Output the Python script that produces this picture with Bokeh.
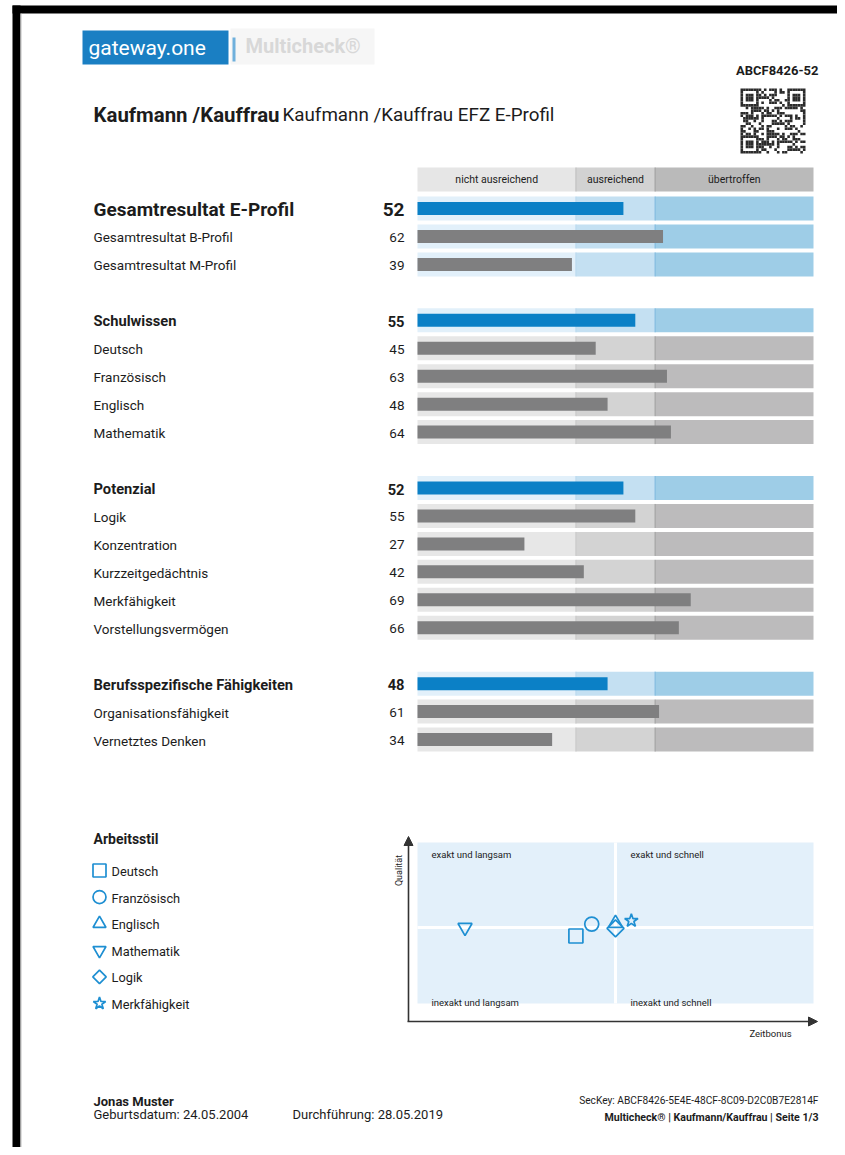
import hashlib
import math
from bokeh.plotting import figure
from bokeh.models import Range1d, ColumnDataSource, Arrow, NormalHead
from bokeh.core.properties import value
from bokeh.embed import file_html
from bokeh.resources import INLINE

# ---------------- data ----------------
labels = ["Gesamtresultat E-Profil", "Gesamtresultat B-Profil", "Gesamtresultat M-Profil",
          "Schulwissen", "Deutsch", "Französisch", "Englisch", "Mathematik",
          "Potenzial", "Logik", "Konzentration", "Kurzzeitgedächtnis", "Merkfähigkeit",
          "Vorstellungsvermögen",
          "Berufsspezifische Fähigkeiten", "Organisationsfähigkeit", "Vernetztes Denken"]
scores = [52, 62, 39, 55, 45, 63, 48, 64, 52, 55, 27, 42, 69, 66, 48, 61, 34]
kinds = ["top", "bluesub", "bluesub", "head", "sub", "sub", "sub", "sub",
         "head", "sub", "sub", "sub", "sub", "sub", "head", "sub", "sub"]
groups = [0, 0, 0, 1, 1, 1, 1, 1, 2, 2, 2, 2, 2, 2, 3, 3, 3]
zone_edges = [0, 40, 60, 100]
zone_names = ["nicht ausreichend", "ausreichend", "übertroffen"]

style_labels = ["Deutsch", "Französisch", "Englisch", "Mathematik", "Logik", "Merkfähigkeit"]
style_markers = ["square", "circle", "triangle", "inverted_triangle", "diamond", "star"]
zeitbonus = [40, 44, 50, 12, 50, 54]
qualitaet = [45, 52, 52.5, 50, 49.5, 54]
quad_mid = 50
quad_names = ["exakt und langsam", "exakt und schnell", "inexakt und langsam", "inexakt und schnell"]

# ---------------- layout ----------------
FONT = "Roboto"
W, H = 837, 1147
X0, Y0 = 0, 0
BAR_L, BAR_R = 417, 813          # page px of score 0 and 100
k = (BAR_R - BAR_L) / 100.0
Q_MID_PX, Q_TOP_PX, Q_BOT_PX = 927, 842, 1003
qk = 1.7                          # px per quality unit

p = figure(width=W, height=H, x_range=Range1d(X0, X0 + W), y_range=Range1d(Y0 + H, Y0),
           output_backend="svg", toolbar_location=None,
           x_axis_location=None, y_axis_location=None, min_border=0)
p.grid.visible = False
p.outline_line_color = None
p.background_fill_color = "white"
p.border_fill_color = "white"
p.extra_x_ranges = {"score": Range1d(start=(X0 - BAR_L) / k, end=(X0 + W - BAR_L) / k)}
p.extra_y_ranges = {"qual": Range1d(start=quad_mid - (Y0 + H - Q_MID_PX) / qk,
                                    end=quad_mid + (Q_MID_PX - Y0) / qk)}

TXT = "#1c1c1c"


def txt(x, y, s, size, bold=False, align="left", color=TXT, angle=0.0, xr="default", yr="default",
        baseline="middle"):
    p.text(x=[x], y=[y], text=[s], text_font=value(FONT), text_font_size=value(f"{size}px"),
           text_font_style="bold" if bold else "normal", text_align=align,
           text_baseline=baseline, text_color=color, angle=angle,
           x_range_name=xr, y_range_name=yr)


# page frame (black border)
p.quad(left=[12, 12], right=[X0 + W, 20], top=[5, 5], bottom=[13, Y0 + H],
       fill_color="black", line_color=None)
p.quad(left=[20], right=[21], top=[13], bottom=[Y0 + H], fill_color="#bdbdbd", line_color=None)

# logo
p.quad(left=[230], right=[374], top=[28], bottom=[64], fill_color="#f6f6f6", line_color=None)
p.quad(left=[82], right=[228], top=[30], bottom=[64], fill_color="#1a7fc3", line_color=None)
p.quad(left=[232], right=[235], top=[37], bottom=[61], fill_color="#6fb0dc", line_color=None)
txt(88, 47, "gateway.one", 21, color="white")
txt(245, 45, "Multicheck®", 20, bold=True, color="#d8d8d8")

# id + qr
txt(818, 70, "ABCF8426-52", 13, bold=True, align="right")
n = 25
mod = 65 / n
bits = "".join(format(b, "08b") for b in hashlib.sha256(b"ABCF8426-52 Multicheck").digest() * 4)
qx, qy = [], []
for r in range(n):
    for c in range(n):
        finder = None
        for fr, fc in ((0, 0), (0, n - 7), (n - 7, 0)):
            if fr <= r < fr + 7 and fc <= c < fc + 7:
                rr, cc = r - fr, c - fc
                finder = (rr in (0, 6) or cc in (0, 6)) or (2 <= rr <= 4 and 2 <= cc <= 4)
        on = (bits[(r * n + c) % len(bits)] == "1") if finder is None else finder
        if on:
            qx.append(740 + (c + 0.5) * mod)
            qy.append(88 + (r + 0.5) * mod)
p.rect(x=qx, y=qy, width=mod, height=mod, fill_color="#2b2b2b", line_color=None)

# title
txt(93, 114, "Kaufmann /Kauffrau", 20.4, bold=True)
txt(282, 114, "Kaufmann /Kauffrau EFZ E-Profil", 18.8)

# header boxes
HDR_Y = 179
hdr_colors = ["#e6e6e6", "#d2d2d2", "#bababa"]
p.hbar(y=[HDR_Y] * 3, left=zone_edges[:-1], right=zone_edges[1:], height=24,
       fill_color=hdr_colors, line_color=None, x_range_name="score")
p.segment(x0=zone_edges[1:3], x1=zone_edges[1:3], y0=[HDR_Y - 12] * 2, y1=[HDR_Y + 12] * 2,
          line_color=["#bdbdbd", "#9a9a9a"], line_width=1, x_range_name="score")
for i, nm in enumerate(zone_names):
    txt((zone_edges[i] + zone_edges[i + 1]) / 2, HDR_Y, nm, 10.5, align="center", xr="score")

# rows
slots = []
slot = 0
prev = groups[0]
for g in groups:
    if g != prev:
        slot += 1
        prev = g
    slots.append(slot)
    slot += 1
ROW0, ROWSTEP = 208, 27.95
row_y = [ROW0 + s * ROWSTEP for s in slots]

blue_z = ["#e2f0fa", "#c4e0f2", "#9ecde7"]
gray_z = ["#e7e7e7", "#d3d3d3", "#bcbbbc"]
bl, br, by, bc = [], [], [], []
sx, sy0, sy1, sc = [], [], [], []
for ry, kd in zip(row_y, kinds):
    cols = gray_z if kd == "sub" else blue_z
    for zi in range(3):
        bl.append(zone_edges[zi]); br.append(zone_edges[zi + 1]); by.append(ry); bc.append(cols[zi])
    for zi, e in enumerate(zone_edges[1:3]):
        sx.append(e); sy0.append(ry - 12); sy1.append(ry + 12)
        if kd == "sub":
            sc.append("#c6c6c6" if zi == 0 else "#9c9c9c")
        else:
            sc.append("#b8d8ee" if zi == 0 else "#7ab7de")
p.hbar(y=by, left=bl, right=br, height=24, fill_color=bc, line_color=None, x_range_name="score")
p.segment(x0=sx, x1=sx, y0=sy0, y1=sy1, line_color=sc, line_width=1, x_range_name="score")

bar_src = ColumnDataSource(dict(
    y=row_y, right=scores, left=[0] * len(scores),
    color=["#0b80c6" if kd in ("top", "head") else "#7f7f80" for kd in kinds]))
p.hbar(y="y", left="left", right="right", height=13, fill_color="color", line_color=None,
       source=bar_src, x_range_name="score")

for lab, sc_, ry, kd in zip(labels, scores, row_y, kinds):
    if kd == "top":
        txt(93, ry + 1, lab, 19, bold=True)
        txt(404, ry + 1, str(sc_), 19, bold=True, align="right")
    elif kd == "head":
        txt(93, ry + 1, lab, 14.7, bold=True)
        txt(404, ry + 1, str(sc_), 14.7, bold=True, align="right")
    else:
        txt(93, ry + 1, lab, 13.5)
        txt(404, ry + 1, str(sc_), 13.5, align="right")

# ---------------- Arbeitsstil ----------------
draw_markers = ["square" if m == "diamond" else m for m in style_markers]
draw_angles = [math.pi / 4 if m == "diamond" else 0.0 for m in style_markers]
draw_sizes = [9.5 if m == "diamond" else 13 for m in style_markers]

txt(93, 838, "Arbeitsstil", 14, bold=True)
LEG_Y0, LEG_STEP = 870, 26.6
leg_y = [LEG_Y0 + i * LEG_STEP for i in range(len(style_labels))]
p.scatter(x=[99] * len(style_labels), y=leg_y, marker=draw_markers, angle=draw_angles,
          size=draw_sizes, fill_color=None, line_color="#1e8fd2", line_width=1.7)
for lab, ly in zip(style_labels, leg_y):
    txt(111, ly + 1, lab, 12.8)

# quadrant area
p.quad(left=[0], right=[100], top=[Q_TOP_PX], bottom=[Q_BOT_PX], fill_color="#e3f0fa",
       line_color=None, x_range_name="score")
p.segment(x0=[quad_mid], x1=[quad_mid], y0=[Q_TOP_PX], y1=[Q_BOT_PX], line_color="white",
          line_width=3, x_range_name="score")
p.segment(x0=[0], x1=[100], y0=[quad_mid], y1=[quad_mid], line_color="white",
          line_width=3, x_range_name="score", y_range_name="qual")
txt(431, 854, quad_names[0], 9.5)
txt(630, 854, quad_names[1], 9.5)
txt(431, 1002, quad_names[2], 9.5)
txt(630, 1002, quad_names[3], 9.5)

# axes arrows
p.add_layout(Arrow(end=NormalHead(size=9, fill_color="#333333", line_color="#333333"),
                   x_start=408, y_start=1021, x_end=408, y_end=836,
                   line_color="#333333", line_width=1.6))
p.add_layout(Arrow(end=NormalHead(size=9, fill_color="#333333", line_color="#333333"),
                   x_start=407, y_start=1021, x_end=817, y_end=1021,
                   line_color="#333333", line_width=1.6))
txt(398, 870, "Qualität", 9, align="center", angle=math.pi / 2)
txt(770, 1033, "Zeitbonus", 9.5, align="center")

sc_sizes = [12 if m == "diamond" else 14 for m in style_markers]
p.scatter(x=zeitbonus, y=qualitaet, marker=draw_markers, angle=draw_angles, size=sc_sizes,
          fill_color=None, line_color="#1e8fd2", line_width=1.7,
          x_range_name="score", y_range_name="qual")

# ---------------- footer ----------------
txt(93, 1101, "Jonas Muster", 13, bold=True)
txt(93, 1114, "Geburtsdatum:  24.05.2004", 13)
txt(292, 1114, "Durchführung:  28.05.2019", 13)
txt(818, 1100, "SecKey: ABCF8426-5E4E-48CF-8C09-D2C0B7E2814F", 10.2, align="right")
txt(818, 1117, "Multicheck® | Kaufmann/Kauffrau | Seite 1/3", 10.6, bold=True, align="right")

open("out.html", "w").write(file_html(p, INLINE))
